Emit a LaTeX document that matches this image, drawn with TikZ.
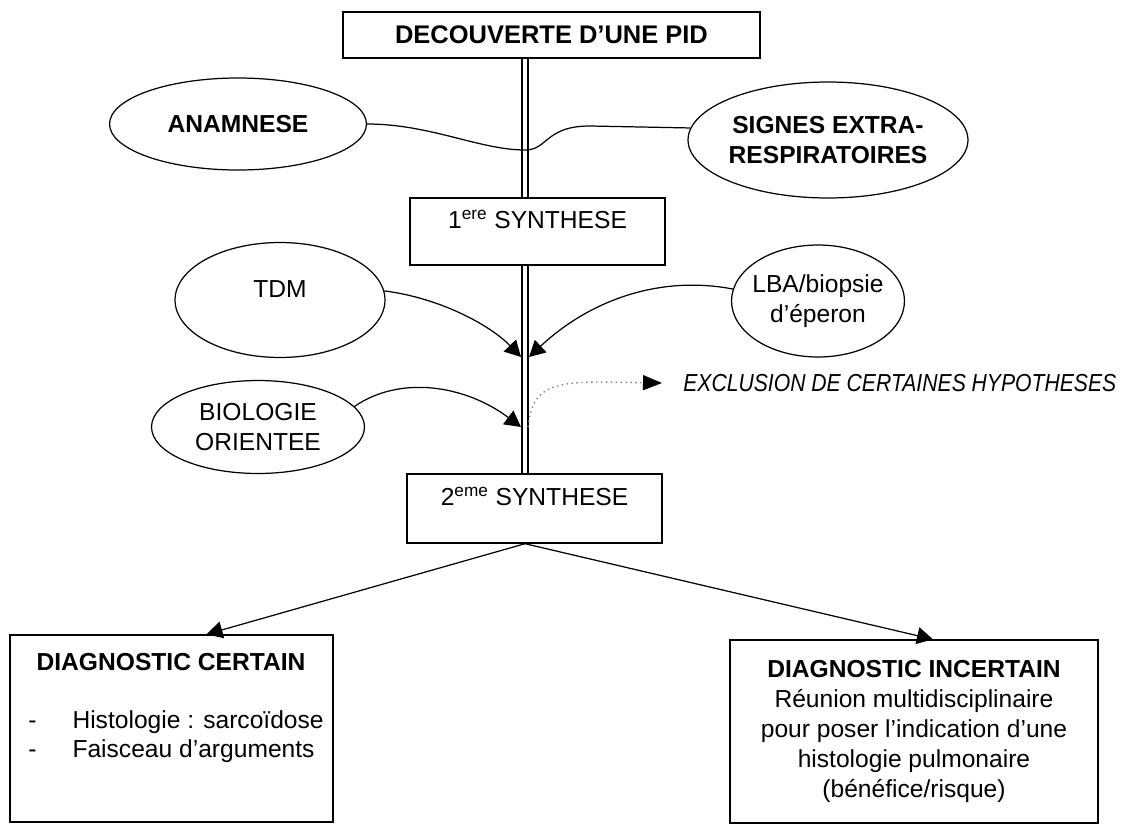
\documentclass[tikz,border=0pt]{standalone}
\usepackage{fontspec}
\setmainfont{Liberation Sans}
\usepackage{graphicx}
\usetikzlibrary{shapes.geometric,arrows.meta}
\newcommand{\taille}{\fontsize{14}{17}\selectfont}
\tikzset{
    boite/.style={draw, line width=0.8pt, rectangle, inner sep=0pt},
    bulle/.style={draw, line width=0.7pt, ellipse, inner xsep=-0.3cm, inner ysep=0pt, align=center},
    decale/.style={text height=0.4cm, text depth=0.51cm},
    lien/.style={line width=0.7pt},
    fleche/.style={line width=0.7pt, -{Triangle[length=0.32cm,width=0.34cm]}},
    tronc/.style={line width=0.8pt, double, double distance=2.4pt},
    pointille/.style={gray, dotted, line width=0.8pt, -{Triangle[length=0.38cm,width=0.3cm,color=black]}}
}

\begin{document}
\begin{tikzpicture}[x=0.02cm, y=-0.02cm, every node/.style={font=\taille}]
    \useasboundingbox (0,0) rectangle (1136,825);

    % 绘制顶部方框
    \node[boite, minimum width=8.34cm, minimum height=0.92cm, font=\fontsize{14.5}{17}\selectfont\bfseries] (pid) at (551.5,35) {DECOUVERTE D’UNE PID};

    % 绘制第一组椭圆
    \node[bulle, minimum width=5.14cm, minimum height=1.84cm, font=\taille\bfseries] (ana) at (238,124) {ANAMNESE};
    \node[bulle, minimum width=5.6cm, minimum height=2.32cm, font=\taille\bfseries] (sig) at (828,140) {SIGNES EXTRA-\\RESPIRATOIRES};

    % 绘制两次综合
    \node[boite, decale, minimum width=5.1cm, minimum height=1.34cm] (s1) at (537.5,231.5) {1\textsuperscript{ere} SYNTHESE};
    \node[boite, decale, minimum width=5.1cm, minimum height=1.38cm] (s2) at (534.5,508.5) {2\textsuperscript{eme} SYNTHESE};

    % 绘制第二组椭圆
    \node[bulle, decale, minimum width=4.2cm, minimum height=2.3cm] (tdm) at (280,300) {TDM};
    \node[bulle, minimum width=3.46cm, minimum height=2.24cm] (lba) at (818,301) {LBA/biopsie\\d’éperon};
    \node[bulle, minimum width=4.26cm, minimum height=1.86cm] (bio) at (258,427) {BIOLOGIE\\ORIENTEE};

    % 绘制排除
    \node[anchor=west, inner xsep=0.42cm, font=\taille\itshape] (excl) at (662,383) {\scalebox{0.86}[1]{EXCLUSION DE CERTAINES HYPOTHESES}};

    % 绘制诊断方框
    \node[boite, minimum width=6.46cm, minimum height=3.74cm] (cert) at (171.5,728.5) {};
    \node[font=\taille\bfseries] (certt) at (171,662) {DIAGNOSTIC CERTAIN};
    \node[anchor=west, inner sep=0pt] (certl) at (28,737) {\begin{tabular}{@{}l@{\hspace{0.72cm}}l@{}}
        - & Histologie : sarcoïdose\\
        - & Faisceau d'arguments
    \end{tabular}};
    \node[boite, align=center, minimum width=7.36cm, minimum height=3.66cm] (incert) at (914,731.5) {\textbf{DIAGNOSTIC INCERTAIN}\\Réunion multidisciplinaire\\pour poser l’indication d’une\\histologie pulmonaire\\(bénéfice/risque)};

    % 绘制主干双线
    \coordinate (x1) at (525,150);
    \coordinate (t1) at (521,357);
    \coordinate (t2) at (529,357);
    \coordinate (t3) at (521,427);
    \coordinate (t4) at (528,427);
    \draw[tronc] (pid.south -| x1) -- (s1.north -| x1);
    \draw[tronc] (s1.south -| x1) -- (s2.north -| x1);

    % 绘制连接线与箭头
    \draw[lien] (ana.east) .. controls (430,124) and (480,150) .. (x1) .. controls (548,150) and (545,126) .. (590,126) -- (sig.175);
    \draw[fleche] (tdm.5) .. controls (440,298) and (490,325) .. (t1);
    \draw[fleche] (lba.172) .. controls (660,275) and (590,300) .. (t2);
    \draw[fleche] (bio.12) .. controls (400,375) and (465,385) .. (t3);
    \draw[pointille] (t4) .. controls (532,392) and (545,382) .. (600,382) -- (excl.west);
    \draw[fleche] (s2.south -| x1) -- ([xshift=0.7cm]cert.north);
    \draw[fleche] (s2.south -| x1) -- ([xshift=0.38cm]incert.north);
\end{tikzpicture}
\end{document}
